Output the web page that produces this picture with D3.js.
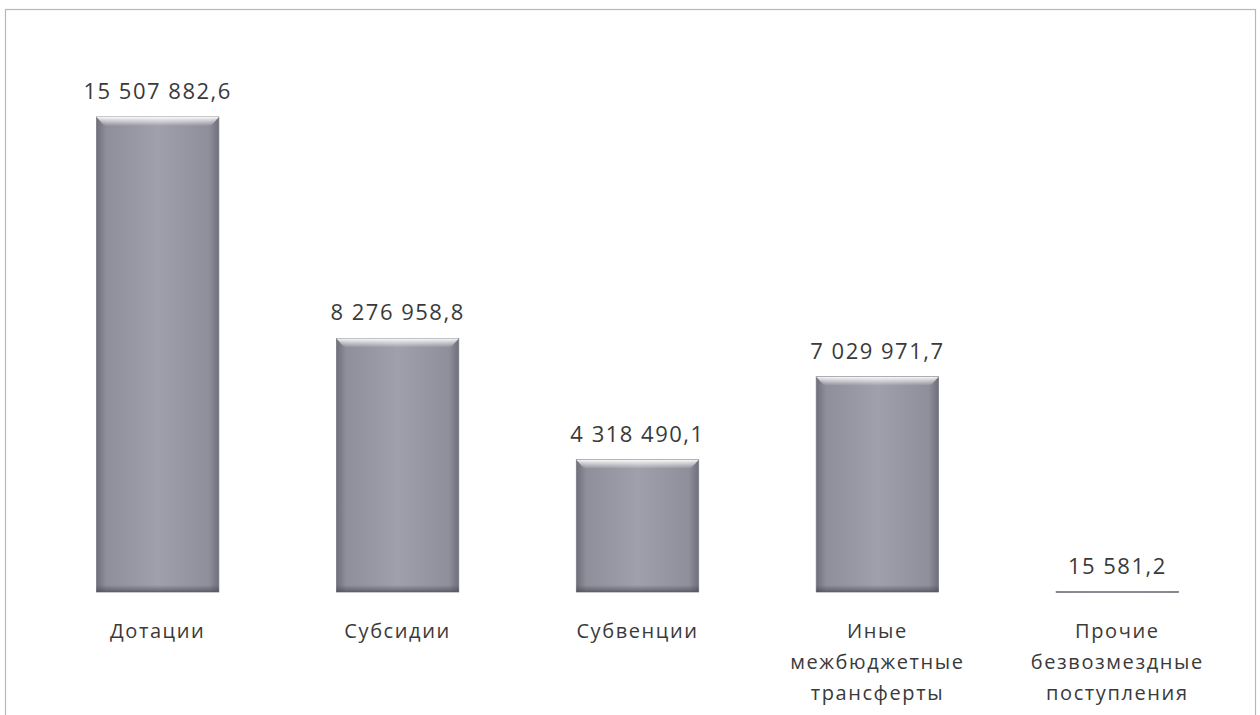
<!DOCTYPE html>
<html>
<head>
<meta charset="utf-8">
<script src="https://cdn.jsdelivr.net/npm/d3@7"></script>
<style>
  body { margin: 0; background: #fff; }
  svg { display: block; }
</style>
</head>
<body>
<svg id="chart"></svg>
<script>
const categories = [
  ['Дотации'],
  ['Субсидии'],
  ['Субвенции'],
  ['Иные', 'межбюджетные', 'трансферты'],
  ['Прочие', 'безвозмездные', 'поступления']
];
const values = [15507882.6, 8276958.8, 4318490.1, 7029971.7, 15581.2];

const width = 1260, height = 715;
const svg = d3.select('#chart').attr('width', width).attr('height', height);

const ru = d3.formatLocale({ decimal: ',', thousands: '\u00a0', grouping: [3], currency: ['', ''] });
const fmt = ru.format(',.1f');

const x = d3.scaleBand()
  .domain(d3.range(values.length))
  .range([37, 1238])
  .paddingInner(0.49)
  .paddingOuter(0.248);

const y = d3.scaleLinear()
  .domain([0, d3.max(values)])
  .range([592, 117]);

// frame
svg.append('rect')
  .attr('x', 5.5).attr('y', 9.5)
  .attr('width', 1250).attr('height', 720)
  .attr('fill', 'none')
  .attr('stroke', '#b8b8b8')
  .attr('stroke-width', 1.2);

const defs = svg.append('defs');
const body = defs.append('linearGradient').attr('id', 'barBody')
  .attr('x1', 0).attr('x2', 1).attr('y1', 0).attr('y2', 0);
body.append('stop').attr('offset', '0%').attr('stop-color', '#6f6f7b');
body.append('stop').attr('offset', '8%').attr('stop-color', '#8f8f9b');
body.append('stop').attr('offset', '50%').attr('stop-color', '#a0a0ac');
body.append('stop').attr('offset', '92%').attr('stop-color', '#8f8f9b');
body.append('stop').attr('offset', '100%').attr('stop-color', '#6f6f7b');

const topShine = defs.append('linearGradient').attr('id', 'barTop')
  .attr('x1', 0).attr('x2', 0).attr('y1', 0).attr('y2', 1);
topShine.append('stop').attr('offset', '0%').attr('stop-color', '#ffffff').attr('stop-opacity', 0.95);
topShine.append('stop').attr('offset', '100%').attr('stop-color', '#ffffff').attr('stop-opacity', 0);

const bottomShade = defs.append('linearGradient').attr('id', 'barBottom')
  .attr('x1', 0).attr('x2', 0).attr('y1', 0).attr('y2', 1);
bottomShade.append('stop').attr('offset', '0%').attr('stop-color', '#4a4a55').attr('stop-opacity', 0);
bottomShade.append('stop').attr('offset', '100%').attr('stop-color', '#4a4a55').attr('stop-opacity', 0.7);

const bars = svg.append('g').selectAll('g')
  .data(values)
  .join('g');

bars.append('rect')
  .attr('x', (d, i) => x(i))
  .attr('y', d => y(d))
  .attr('width', x.bandwidth())
  .attr('height', d => Math.max(1, y(0) - y(d)))
  .attr('fill', 'url(#barBody)')
  .attr('stroke', '#7a7a84')
  .attr('stroke-width', 0.8);

bars.filter(d => y(0) - y(d) > 20).append('path')
  .attr('d', (d, i) => {
    const x0 = x(i), x1 = x(i) + x.bandwidth(), t = y(d);
    return `M${x0},${t}L${x1},${t}L${x1 - 8},${t + 9}L${x0 + 8},${t + 9}Z`;
  })
  .attr('fill', 'url(#barTop)');

bars.filter(d => y(0) - y(d) > 20).append('rect')
  .attr('x', (d, i) => x(i))
  .attr('y', y(0) - 7)
  .attr('width', x.bandwidth())
  .attr('height', 7)
  .attr('fill', 'url(#barBottom)');

// value labels
svg.append('g').selectAll('text')
  .data(values)
  .join('text')
  .attr('x', (d, i) => x(i) + x.bandwidth() / 2)
  .attr('y', d => y(d) - 18)
  .attr('text-anchor', 'middle')
  .attr('font-family', '"Open Sans", sans-serif')
  .attr('font-size', 22)
  .attr('letter-spacing', 1.5)
  .attr('fill', '#3a3a3a')
  .text(d => fmt(d));

// category labels
const cat = svg.append('g').selectAll('text')
  .data(categories)
  .join('text')
  .attr('text-anchor', 'middle')
  .attr('font-family', '"Open Sans", sans-serif')
  .attr('font-size', 20)
  .attr('letter-spacing', 1.6)
  .attr('fill', '#3a3a3a');

cat.selectAll('tspan')
  .data((d, i) => d.map(t => ({ t, i })))
  .join('tspan')
  .attr('x', d => x(d.i) + x.bandwidth() / 2)
  .attr('y', (d, j) => 638 + j * 31)
  .text(d => d.t);
</script>
</body>
</html>
